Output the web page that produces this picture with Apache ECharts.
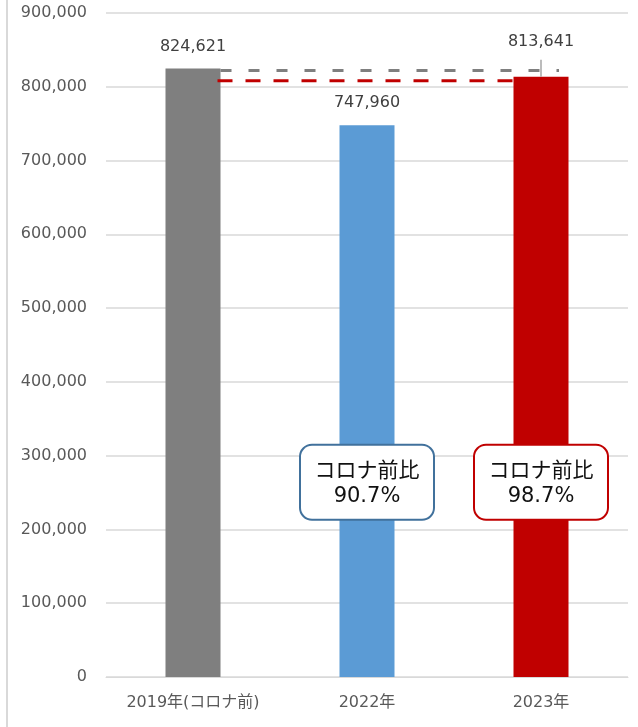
<!DOCTYPE html>
<html><head><meta charset="utf-8">
<script src="https://cdn.jsdelivr.net/npm/echarts@6/dist/echarts.min.js"></script>
<style>html,body{margin:0;padding:0;background:#fff}#c{width:638px;height:727px}</style>
</head><body><div id="c"></div>
<script>
const categories = ['2019年(コロナ前)', '2022年', '2023年'];
const visitors = [824621, 747960, 813641];
const barColors = ['#7F7F7F', '#5B9BD5', '#C00000'];
const ratioLabels = ['', '90.7%', '98.7%'];
const ratioPrefix = 'コロナ前比';
const boxColors = ['', '#41719C', '#C00000'];
const boxLevel = 264000;

const FONT = '"DejaVu Sans", "Noto Sans CJK JP", sans-serif';
const chart = echarts.init(document.getElementById('c'));

const markData = [];
for (let i = 1; i < categories.length; i++) {
  markData.push({
    coord: [categories[i], boxLevel],
    symbol: 'rect', symbolSize: 1,
    itemStyle: { color: 'rgba(0,0,0,0)' },
    label: {
      show: true, position: 'inside',
      formatter: '{a|' + ratioPrefix + '}\n{b|' + ratioLabels[i] + '}',
      align: 'center',
      rich: {
        a: { fontFamily: '"Noto Sans CJK JP", sans-serif', fontSize: 21, lineHeight: 27, color: '#111', align: 'center' },
        b: { fontFamily: FONT, fontSize: 21, lineHeight: 27, color: '#111', align: 'center' }
      },
      backgroundColor: '#fff', borderColor: boxColors[i], borderWidth: 2,
      borderRadius: 11, width: 132, padding: [10, 0, 9, 0]
    }
  });
}

chart.setOption({
  animation: false,
  grid: { left: 106, right: 10, top: 13, bottom: 50 },
  xAxis: {
    type: 'category', data: categories,
    axisLine: { lineStyle: { color: '#D9D9D9', width: 1 } },
    axisTick: { show: false },
    axisLabel: { color: '#595959', fontSize: 16, fontFamily: FONT, margin: 18, interval: 0 }
  },
  yAxis: {
    type: 'value', min: 0, max: 900000, interval: 100000,
    axisLine: { show: false }, axisTick: { show: false },
    splitLine: { lineStyle: { color: '#D9D9D9', width: 1.5 } },
    axisLabel: {
      color: '#595959', fontSize: 16, fontFamily: FONT, margin: 19,
      formatter: v => v.toLocaleString('en-US')
    }
  },
  series: [{
    type: 'bar', barWidth: 55,
    data: visitors.map((v, i) => ({
      value: v, itemStyle: { color: barColors[i] },
      label: { distance: i === 2 ? 27 : 14 }
    })),
    label: {
      show: true, position: 'top', color: '#404040', fontSize: 16, fontFamily: FONT,
      formatter: p => p.value.toLocaleString('en-US')
    },
    markPoint: { data: markData, silent: true }
  }]
});

function drawGuides() {
  const p0 = chart.convertToPixel({ seriesIndex: 0 }, [0, visitors[0]]);
  const p2 = chart.convertToPixel({ seriesIndex: 0 }, [2, visitors[2]]);
  const half = 27.5;
  chart.setOption({
    graphic: [
      { type: 'line', shape: { x1: 7, y1: 0, x2: 7, y2: 727 }, style: { stroke: '#D9D9D9', lineWidth: 2 } },
      { type: 'line', shape: { x1: p0[0] + half, y1: p0[1] + 2, x2: p2[0] + 18, y2: p0[1] + 2 },
        style: { stroke: '#7F7F7F', lineWidth: 3, lineDash: [11, 17] }, z: 100 },
      { type: 'line', shape: { x1: p0[0] + half - 3, y1: p2[1] + 4, x2: p2[0] - half, y2: p2[1] + 4 },
        style: { stroke: '#C00000', lineWidth: 3, lineDash: [15, 13] }, z: 100 },
      { type: 'line', shape: { x1: p2[0], y1: p2[1] - 17, x2: p2[0], y2: p2[1] },
        style: { stroke: '#A6A6A6', lineWidth: 1.5 }, z: 100 }
    ]
  });
}
drawGuides();
</script></body></html>
